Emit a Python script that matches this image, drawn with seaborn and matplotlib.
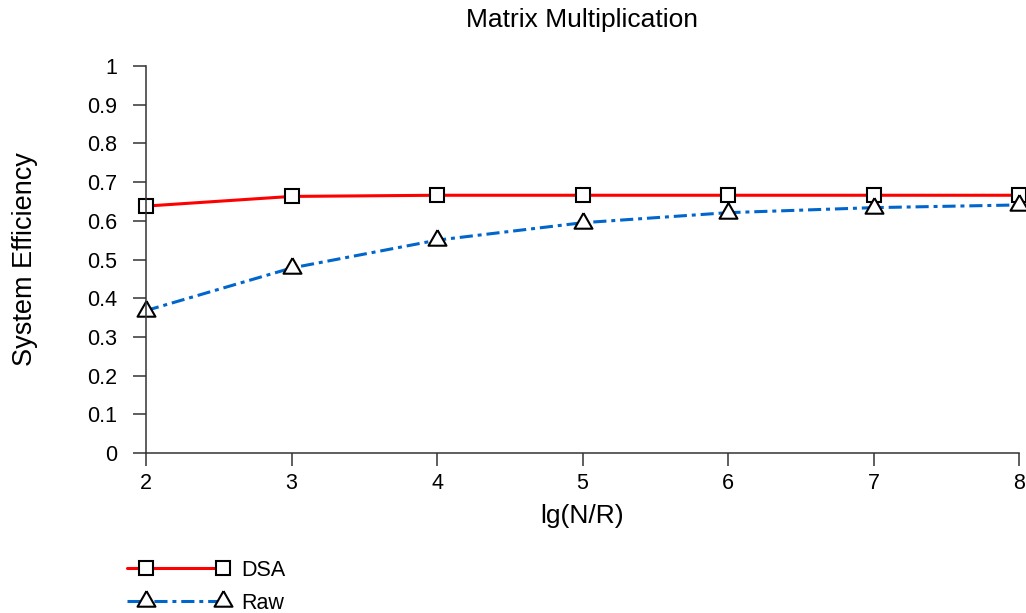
import matplotlib
matplotlib.use("Agg")
import matplotlib.pyplot as plt
import seaborn as sns
import pandas as pd
from matplotlib.legend_handler import HandlerLine2DCompound
import numpy as np

x_vals = [2, 3, 4, 5, 6, 7, 8]
dsa = [0.638, 0.663, 0.666, 0.666, 0.666, 0.666, 0.666]
raw = [0.368, 0.478, 0.550, 0.595, 0.621, 0.634, 0.641]
y_ticks = [0, 0.1, 0.2, 0.3, 0.4, 0.5, 0.6, 0.7, 0.8, 0.9, 1]
y_tick_labels = ["0", "0.1", "0.2", "0.3", "0.4", "0.5", "0.6", "0.7", "0.8", "0.9", "1"]

sns.set_style("white")
plt.rcParams['font.family'] = ['Liberation Sans', 'DejaVu Sans']
plt.rcParams['text.color'] = 'black'
plt.rcParams['axes.labelcolor'] = 'black'
plt.rcParams['xtick.color'] = 'black'
plt.rcParams['ytick.color'] = 'black'

PX = 72 / 100.0  # points per pixel

fig = plt.figure(figsize=(10.26, 6.13), dpi=100)
ax = fig.add_axes([146/1026, 1-453/613, (1019-146)/1026, (453-66)/613])

df = pd.DataFrame({"x": x_vals, "DSA": dsa, "Raw": raw})

tri = [(0, 2), (-1.72, -1), (1.72, -1), (0, 2)]

sns.lineplot(data=df, x="x", y="DSA", ax=ax, color="#FF0000", linewidth=2.2,
             marker="s", markersize=9.5, markerfacecolor="white",
             markeredgecolor="black", markeredgewidth=1.5, label="DSA", clip_on=False)
sns.lineplot(data=df, x="x", y="Raw", ax=ax, color="#0066CC", linewidth=2.2,
             marker=tri, markersize=15, markerfacecolor="white",
             markeredgecolor="black", markeredgewidth=1.5, label="Raw", clip_on=False)
ax.lines[1].set_dashes([4.3, 1.6, 1.3, 1.6])

ax.set_xlim(2, 8)
ax.set_ylim(0, 1)
ax.set_yticks(y_ticks)
ax.set_yticklabels(y_tick_labels)
ax.set_xticks(x_vals)

for s in ["top", "right"]:
    ax.spines[s].set_visible(False)
for s in ["left", "bottom"]:
    ax.spines[s].set_color("#333333")
    ax.spines[s].set_linewidth(1.1)
ax.tick_params(axis="both", which="both", direction="out", length=13*PX, width=1.1,
               color="#333333", labelsize=15.5, left=True, bottom=True, labelcolor="black")
ax.tick_params(axis="x", pad=5)
ax.tick_params(axis="y", pad=11.5)

ax.set_title("Matrix Multiplication", fontsize=19, pad=28, color="black")
ax.set_xlabel("lg(N/R)", fontsize=19, color="black")
ax.set_ylabel("System Efficiency", fontsize=19.5, color="black")
ax.xaxis.set_label_coords(0.5, (453-504)/387)
ax.yaxis.set_label_coords((38-146)/873, 0.5)


class OffsetMarkerHandler(HandlerLine2DCompound):
    def get_xdata(self, legend, xdescent, ydescent, width, height, fontsize):
        xdata = np.array([-xdescent, -xdescent + width])
        xm = np.array([-xdescent + 19*PX, -xdescent + width])
        return xdata, xm


leg_fs = 15.5
leg = ax.legend(loc="upper left", bbox_to_anchor=(127/1026, 1-560/613),
                bbox_transform=fig.transFigure, frameon=False, numpoints=2,
                handlelength=96*PX/leg_fs, fontsize=leg_fs, labelspacing=0.55,
                handletextpad=0.85, borderaxespad=0, borderpad=0,
                handler_map={ax.lines[0]: OffsetMarkerHandler(numpoints=2),
                             ax.lines[1]: OffsetMarkerHandler(numpoints=2)})

fig.savefig("out.png", dpi=100)
